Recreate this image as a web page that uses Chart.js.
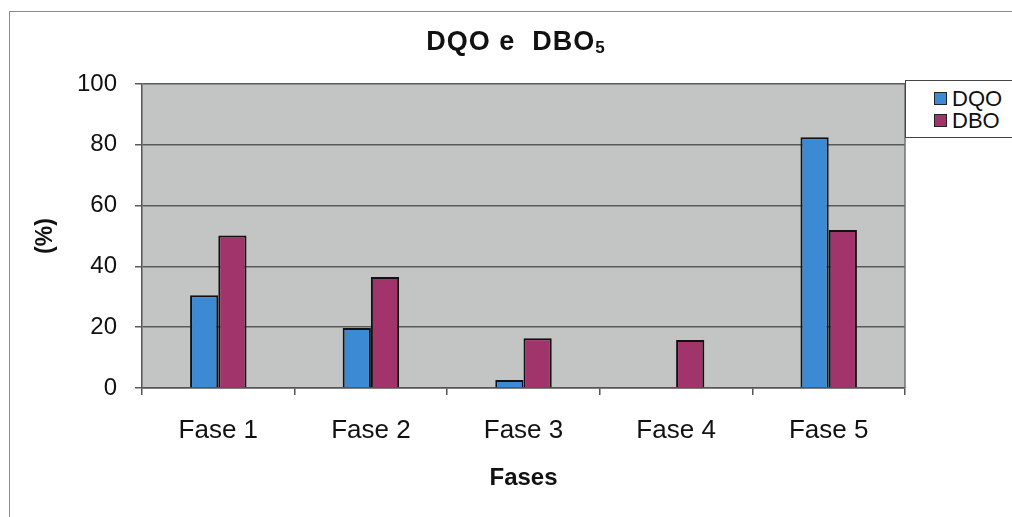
<!DOCTYPE html>
<html lang="pt">
<head>
    <meta charset="UTF-8">
    <title>DQO e DBO5</title>
    <script src="https://cdn.jsdelivr.net/npm/chart.js"></script>
    <style>
        html, body { margin: 0; padding: 0; background: #fff; overflow: hidden; }
        body { width: 1012px; height: 517px; position: relative; font-family: 'Liberation Sans', Arial, sans-serif; }
        .frame { position: absolute; left: 9px; top: 11px; width: 1100px; height: 600px; border: 1.5px solid #8a8a8a; box-sizing: border-box; }
        #wrap { position: absolute; left: 0; top: 0; width: 1012px; height: 517px; }
        .title { position: absolute; left: 0; width: 1032px; top: 26px; text-align: center; font-weight: bold; font-size: 27px; color: #111; letter-spacing: 1px; }
        .title sub { font-size: 17px; vertical-align: -3px; }
        .legend { position: absolute; left: 905px; top: 80px; width: 120px; height: 58px; border: 1.5px solid #444; box-sizing: border-box; background: #fff; }
        .legend div { position: absolute; left: 28px; font-size: 22px; color: #111; line-height: 22px; }
        .legend span { display: inline-block; width: 11px; height: 11px; border: 1.5px solid #222; margin-right: 5px; vertical-align: 1px; }
    </style>
</head>
<body>
    <div class="frame"></div>
    <div id="wrap"><canvas id="chart" width="1012" height="517"></canvas></div>
    <div class="title">DQO e&nbsp; DBO<sub>5</sub></div>
    <div class="legend" id="legend"></div>

    <script>
        const fases = ['Fase 1', 'Fase 2', 'Fase 3', 'Fase 4', 'Fase 5'];
        const dqo = [30.5, 19.7, 2.6, 0, 82.5];
        const dbo = [50.2, 36.5, 16.4, 15.8, 52.0];
        const yTicks = [0, 20, 40, 60, 80, 100];

        const colors = { DQO: '#3d8ad4', DBO: '#a1346a' };

        const plotBg = {
            id: 'plotBg',
            beforeDraw(chart) {
                const a = chart.chartArea, ctx = chart.ctx;
                ctx.save();
                ctx.fillStyle = '#c3c5c5';
                ctx.fillRect(a.left, a.top, a.right - a.left, a.bottom - a.top);
                ctx.restore();
            },
            afterDatasetsDraw(chart) {
                const a = chart.chartArea, ctx = chart.ctx;
                ctx.save();
                ctx.strokeStyle = '#707070';
                ctx.lineWidth = 1.5;
                ctx.beginPath();
                ctx.moveTo(a.right, a.top);
                ctx.lineTo(a.right, a.bottom);
                ctx.stroke();
                ctx.restore();
            }
        };

        const chart = new Chart(document.getElementById('chart'), {
            type: 'bar',
            data: {
                labels: fases,
                datasets: [
                    { label: 'DQO', data: dqo, backgroundColor: colors.DQO, borderColor: '#111', borderWidth: 2 },
                    { label: 'DBO', data: dbo, backgroundColor: colors.DBO, borderColor: '#111', borderWidth: 2 }
                ]
            },
            options: {
                responsive: false,
                animation: false,
                devicePixelRatio: 1,
                categoryPercentage: 0.37,
                barPercentage: 1.0,
                layout: { padding: { left: 0, right: 107, top: 84, bottom: 0 } },
                plugins: {
                    legend: { display: false },
                    title: { display: false },
                    tooltip: { enabled: false }
                },
                scales: {
                    x: {
                        grid: { display: true, drawOnChartArea: false, drawTicks: true, tickLength: 7, color: '#555', lineWidth: 1.5 },
                        border: { color: '#555', width: 1.5 },
                        ticks: { color: '#111', font: { size: 26, family: "'Liberation Sans', Arial" }, padding: 20 },
                        title: { display: true, text: 'Fases', color: '#111', font: { size: 24, weight: 'bold', family: "'Liberation Sans', Arial" }, padding: { bottom: 24 } },
                        afterFit(scale) { scale.height = 129; }
                    },
                    y: {
                        min: 0,
                        max: 100,
                        afterBuildTicks(scale) { scale.ticks = yTicks.map(v => ({ value: v })); },
                        grid: { color: '#5a5a5a', lineWidth: 1.5, drawTicks: true, tickLength: 7 },
                        border: { color: '#555', width: 1.5 },
                        ticks: { color: '#111', font: { size: 24, family: "'Liberation Sans', Arial" }, padding: 18 },
                        title: { display: true, text: '(%)', color: '#111', font: { size: 23, weight: 'bold', family: "'Liberation Sans', Arial" }, padding: { top: 32 } },
                        afterFit(scale) { scale.width = 142; }
                    }
                }
            },
            plugins: [plotBg]
        });

        // legend built from the datasets
        const legend = document.getElementById('legend');
        chart.data.datasets.forEach((ds, i) => {
            const row = document.createElement('div');
            row.style.top = (7 + i * 22) + 'px';
            row.innerHTML = '<span style="background:' + ds.backgroundColor + '"></span>' + ds.label;
            legend.appendChild(row);
        });
    </script>
</body>
</html>
